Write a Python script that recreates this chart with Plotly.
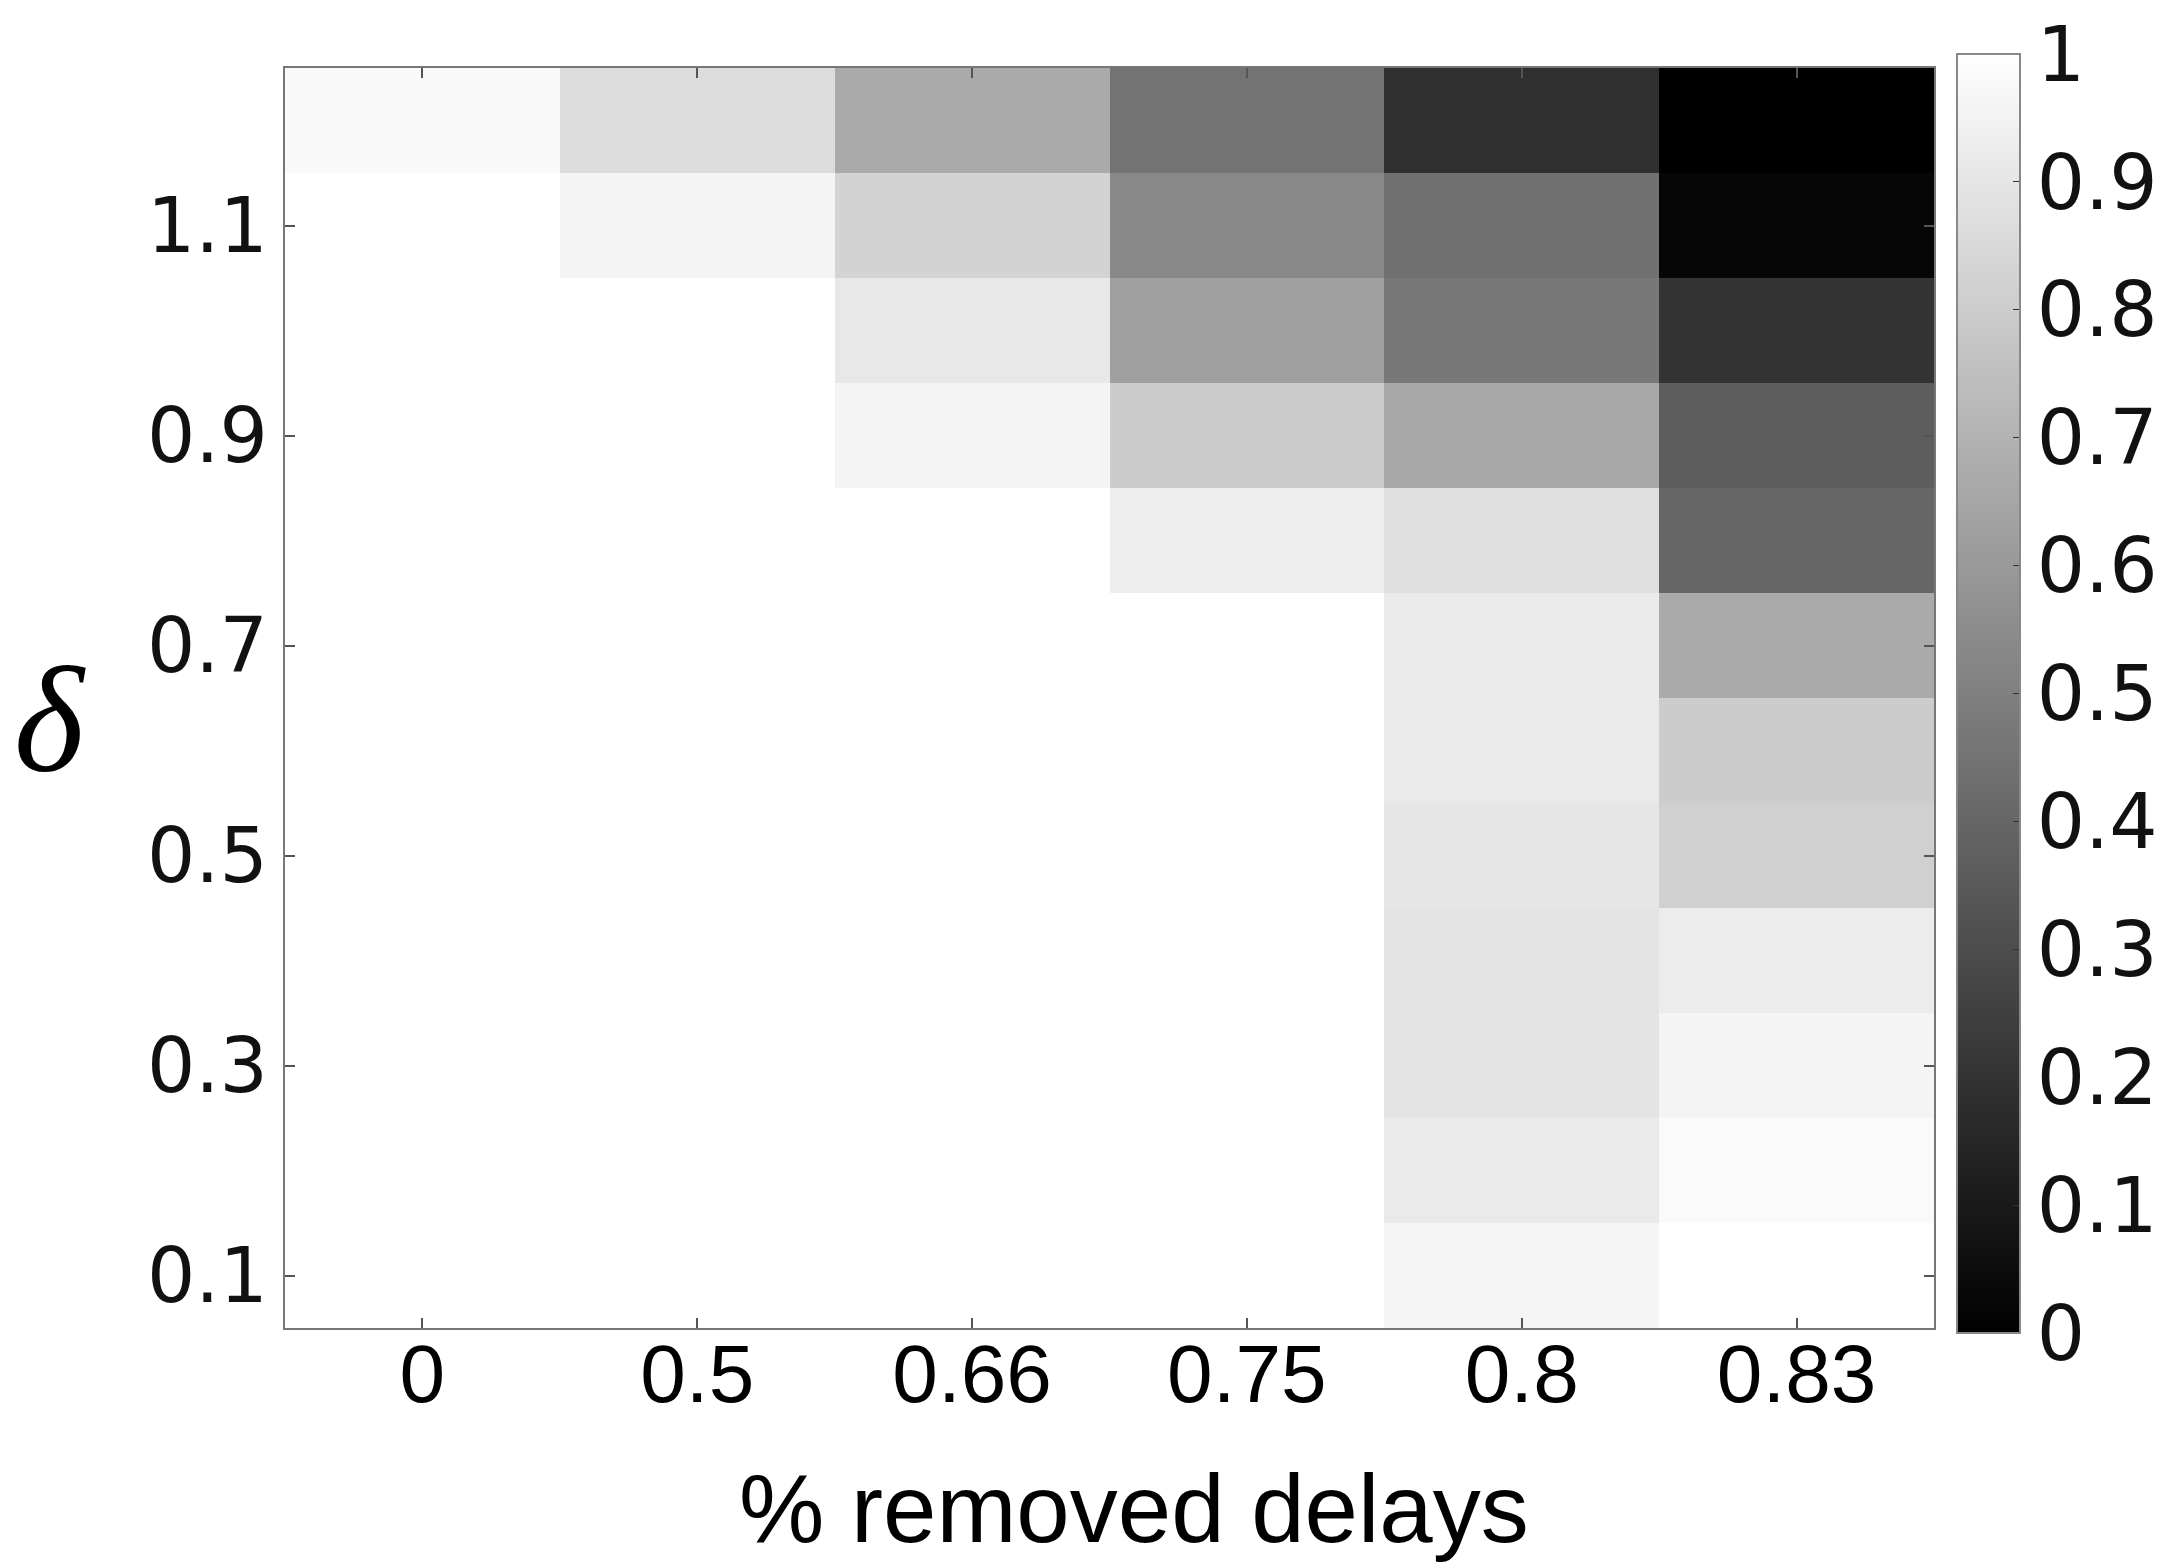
import plotly.graph_objects as go

removed = ["0", "0.5", "0.66", "0.75", "0.8", "0.83"]
delta = [0.1, 0.2, 0.3, 0.4, 0.5, 0.6, 0.7, 0.8, 0.9, 1.0, 1.1, 1.2]

# rows follow delta (0.1 -> 1.2), columns follow removed
z = [
    [1.00, 1.00, 1.00, 1.00, 0.960, 1.000],  # 0.1
    [1.00, 1.00, 1.00, 1.00, 0.918, 0.980],  # 0.2
    [1.00, 1.00, 1.00, 1.00, 0.894, 0.957],  # 0.3
    [1.00, 1.00, 1.00, 1.00, 0.894, 0.925],  # 0.4
    [1.00, 1.00, 1.00, 1.00, 0.900, 0.816],  # 0.5
    [1.00, 1.00, 1.00, 1.00, 0.918, 0.800],  # 0.6
    [1.00, 1.00, 1.00, 1.00, 0.920, 0.667],  # 0.7
    [1.00, 1.00, 1.00, 0.933, 0.878, 0.400],  # 0.8
    [1.00, 1.00, 0.957, 0.800, 0.660, 0.365],  # 0.9
    [1.00, 1.00, 0.910, 0.627, 0.470, 0.200],  # 1.0
    [1.00, 0.957, 0.827, 0.533, 0.443, 0.024],  # 1.1
    [0.976, 0.863, 0.667, 0.451, 0.184, 0.000],  # 1.2
]

ytick_vals = [0.1, 0.3, 0.5, 0.7, 0.9, 1.1]
cbar_vals = [0.0, 0.1, 0.2, 0.3, 0.4, 0.5, 0.6, 0.7, 0.8, 0.9, 1.0]
cbar_text = ["0", "0.1", "0.2", "0.3", "0.4", "0.5", "0.6", "0.7", "0.8", "0.9", "1"]

W, H = 2171, 1562
L, R, T, B = 277, 242, 60, 242
pw = W - L - R
ph = H - T - B

fig = go.Figure(
    go.Heatmap(
        x=removed,
        y=delta,
        z=z,
        zmin=0,
        zmax=1,
        colorscale=[[0, "#000000"], [1, "#ffffff"]],
        zsmooth=False,
        colorbar=dict(
            thickness=63,
            thicknessmode="pixels",
            len=1279,
            lenmode="pixels",
            x=(1952 - L) / pw,
            xref="paper",
            xanchor="left",
            y=(H - B - 685.5) / ph,
            yanchor="middle",
            outlinewidth=2,
            outlinecolor="#888888",
            tickvals=cbar_vals,
            ticktext=cbar_text,
            ticks="inside",
            ticklen=8,
            tickcolor="#333333",
            tickfont=dict(family="DejaVu Sans", size=76, color="#111111"),
            ypad=0,
            xpad=0,
        ),
    )
)

fig.update_layout(
    width=W,
    height=H,
    margin=dict(l=L, r=R, t=T, b=B),
    paper_bgcolor="white",
    plot_bgcolor="white",
    xaxis=dict(
        type="category",
        range=[-0.5, 5.5],
        showline=True,
        mirror="ticks",
        linecolor="#777777",
        linewidth=2,
        ticks="inside",
        ticklen=10,
        tickwidth=2,
        tickcolor="#555555",
        ticklabelstandoff=-26,
        tickfont=dict(family="Liberation Sans", size=82, color="#000000"),
        showgrid=False,
        zeroline=False,
    ),
    yaxis=dict(
        range=[0.05, 1.25],
        tickvals=ytick_vals,
        ticktext=[str(v) for v in ytick_vals],
        showline=True,
        mirror="ticks",
        linecolor="#777777",
        linewidth=2,
        ticks="inside",
        ticklen=10,
        tickwidth=2,
        tickcolor="#555555",
        tickfont=dict(family="DejaVu Sans", size=76, color="#111111"),
        showgrid=False,
        zeroline=False,
    ),
    annotations=[
        dict(
            text="% removed delays",
            xref="paper",
            yref="paper",
            x=(1128 - L) / pw,
            y=(H - B - 1500) / ph,
            xanchor="center",
            yanchor="middle",
            showarrow=False,
            font=dict(family="Liberation Sans", size=96, color="#000000"),
        ),
        dict(
            text="<i>δ</i>",
            xref="paper",
            yref="paper",
            x=(42 - L) / pw,
            y=(H - B - 712) / ph,
            xanchor="center",
            yanchor="middle",
            showarrow=False,
            font=dict(family="Liberation Serif", size=150, color="#000000"),
        ),
    ],
)

fig.write_html("out.html")
